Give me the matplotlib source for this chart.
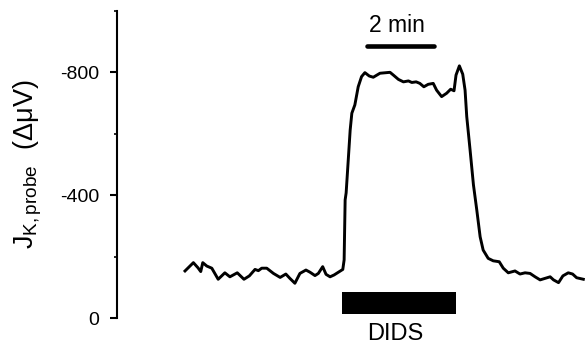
import matplotlib
matplotlib.use("Agg")
import matplotlib.pyplot as plt
from matplotlib.ticker import FixedLocator

# ---- data (time in min, flux signal in µV) ----
time_min = [0.00, 0.25, 0.39, 0.47, 0.53, 0.65, 0.80, 0.99, 1.19, 1.34,
            1.56, 1.76, 1.92, 2.09, 2.19, 2.29, 2.44, 2.64, 2.84, 3.01,
            3.13, 3.28, 3.43, 3.61, 3.73, 3.88, 3.98, 4.11, 4.21, 4.33,
            4.45, 4.71, 4.75, 4.78, 4.81, 4.93, 4.98, 5.07, 5.17, 5.27,
            5.37, 5.50, 5.62, 5.82, 6.12, 6.22, 6.37, 6.52, 6.67, 6.77,
            6.90, 7.01, 7.13, 7.26, 7.41, 7.51, 7.66, 7.81, 7.93, 8.03,
            8.09, 8.19, 8.29, 8.36, 8.41, 8.51, 8.61, 8.71, 8.81, 8.90,
            9.05, 9.20, 9.38, 9.50, 9.65, 9.85, 10.00, 10.15, 10.30, 10.45,
            10.60, 10.75, 10.90, 11.00, 11.15, 11.28, 11.44, 11.57, 11.69, 11.89]
signal_uv = [-153, -180, -163, -151, -180, -169, -162, -126, -147, -134,
             -147, -126, -137, -158, -154, -162, -162, -145, -132, -143,
             -129, -113, -145, -156, -149, -138, -145, -167, -142, -134,
             -140, -158, -189, -384, -407, -611, -666, -693, -752, -785,
             -798, -787, -783, -796, -799, -790, -776, -768, -771, -766,
             -768, -763, -752, -760, -763, -741, -720, -731, -744, -739,
             -790, -820, -793, -741, -655, -546, -433, -351, -264, -221,
             -194, -186, -183, -162, -147, -153, -143, -147, -145, -134,
             -124, -129, -134, -124, -115, -137, -147, -143, -131, -126]

dids_start, dids_end = 4.69, 8.09       # DIDS application (min)
scale_start, scale_len = 5.43, 2.0      # 2-min scale bar
yticks_major = [0, -400, -800]
ytick_labels = ["0", "-400", "-800"]
yticks_minor = [-200, -600, -1000]

plt.rcParams['font.family'] = ['Liberation Sans', 'DejaVu Sans']
plt.rcParams['mathtext.fontset'] = 'custom'
plt.rcParams['mathtext.rm'] = 'Liberation Sans'
plt.rcParams['mathtext.it'] = 'Liberation Sans:italic'

fig = plt.figure(figsize=(5.85, 3.46), dpi=100)
ax = fig.add_axes([0.2, 0.0809, 0.8, 0.8887])

ax.plot(time_min, signal_uv, color='black', lw=2.1, solid_joinstyle='round')

ax.set_xlim(-2.03, 11.94)
ax.set_ylim(0, -1000)

# DIDS bar
ax.fill_between([dids_start, dids_end], -13, -85, color='black', lw=0)
ax.text((dids_start + dids_end) / 2 - 0.1, 72, "DIDS", ha='center', va='baseline',
        fontsize=17, clip_on=False)

# scale bar
ax.plot([scale_start, scale_start + scale_len], [-885, -885], color='black',
        lw=3.3, solid_capstyle='round')
ax.text(scale_start + scale_len / 2 - 0.1, -930, "2 min", ha='center',
        va='baseline', fontsize=16.5)

for s in ['top', 'right', 'bottom']:
    ax.spines[s].set_visible(False)
ax.spines['left'].set_linewidth(1.5)
ax.xaxis.set_visible(False)

ax.yaxis.set_major_locator(FixedLocator(yticks_major))
ax.set_yticklabels(ytick_labels)
ax.yaxis.set_minor_locator(FixedLocator(yticks_minor))
ax.tick_params(axis='y', which='major', length=5, width=1.5, labelsize=14, pad=8)
ax.tick_params(axis='y', which='minor', length=2, width=1.2)

ax.set_ylabel(r"$\mathregular{J_{K,probe}}$  (ΔμV)", fontsize=19.5)
ax.yaxis.set_label_coords(-0.155, 0.50)

fig.savefig("out.png", dpi=100)
